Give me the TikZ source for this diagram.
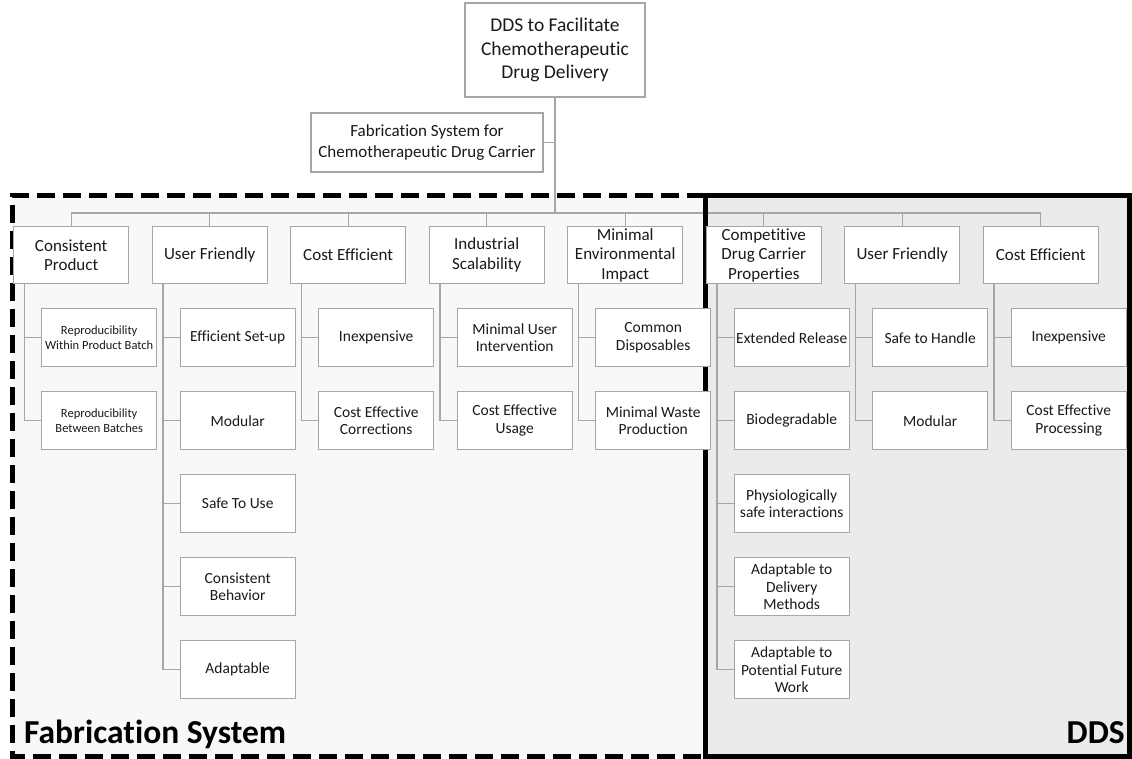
\documentclass[tikz,border=0pt]{standalone}
\usepackage{fontspec}
\setmainfont{Carlito}[Ligatures=NoCommon]
\usetikzlibrary{calc}
\definecolor{boxline}{HTML}{A6A6A6}
\definecolor{fabfill}{HTML}{F8F8F8}
\definecolor{ddsfill}{HTML}{EBEBEB}
\definecolor{ink}{HTML}{1A1A1A}
\pgfdeclarelayer{shade}
\pgfdeclarelayer{frame}
\pgfsetlayers{shade,frame,main}

\begin{document}
\begin{tikzpicture}[x=1pt,y=-1pt,
  box/.style={draw=boxline, line width=1.4pt, fill=white, align=center,
    inner sep=1pt, text=ink, minimum width=115pt, minimum height=57pt},
  headbox/.style={box, anchor=north west, font=\fontsize{17}{19.5}\selectfont},
  leafbox/.style={box, anchor=north west, minimum height=58pt,
    font=\fontsize{15.5}{17.5}\selectfont},
  smallleaf/.style={leafbox, font=\fontsize{12.5}{14.5}\selectfont},
  link/.style={draw=boxline, line width=1.4pt},
  region/.style={line width=5pt, draw=black},
  biglabel/.style={inner sep=0pt, text=black, font=\fontsize{33.5}{40}\selectfont\bfseries}
]
\useasboundingbox (0,0) rectangle (1132,759);

% goal boxes
\node[box, minimum width=180pt, minimum height=94pt,
  font=\fontsize{19.5}{23.5}\selectfont] (top) at (555,50)
  {DDS to Facilitate\\Chemotherapeutic\\Drug Delivery};
\node[box, minimum width=232pt, minimum height=59pt,
  font=\fontsize{17}{20.5}\selectfont] (fab) at (427,142.5)
  {Fabrication System for\\Chemotherapeutic Drug Carrier};
\coordinate (bus) at (555,213);

% column headings
\foreach \i/\x/\t in {
  1/13/{Consistent\\Product},
  2/151.5/{User Friendly},
  3/290/{Cost Efficient},
  4/428.5/{Industrial\\Scalability},
  5/567/{Minimal\\Environmental\\Impact},
  6/705.5/{Competitive\\Drug Carrier\\Properties},
  7/844/{User Friendly},
  8/982.5/{Cost Efficient}}
  \node[headbox] (h\i) at (\x,226) {\t};

% leaf boxes
\node[smallleaf] (c11) at (41,308) {Reproducibility\\Within Product Batch};
\node[smallleaf] (c12) at (41,391) {Reproducibility\\Between Batches};

\node[leafbox] (c21) at (179.5,308) {Efficient Set-up};
\node[leafbox] (c22) at (179.5,391) {Modular};
\node[leafbox] (c23) at (179.5,474) {Safe To Use};
\node[leafbox] (c24) at (179.5,557) {Consistent\\Behavior};
\node[leafbox] (c25) at (179.5,640) {Adaptable};

\node[leafbox] (c31) at (318,308) {Inexpensive};
\node[leafbox] (c32) at (318,391) {Cost Effective\\Corrections};

\node[leafbox] (c41) at (456.5,308) {Minimal User\\Intervention};
\node[leafbox] (c42) at (456.5,391) {Cost Effective\\Usage};

\node[leafbox] (c51) at (595,308) {Common\\Disposables};
\node[leafbox] (c52) at (595,391) {Minimal Waste\\Production};

\node[leafbox] (c61) at (733.5,308) {Extended Release};
\node[leafbox] (c62) at (733.5,391) {Biodegradable};
\node[leafbox] (c63) at (733.5,474) {Physiologically\\safe interactions};
\node[leafbox] (c64) at (733.5,557) {Adaptable to\\Delivery\\Methods};
\node[leafbox] (c65) at (733.5,640) {Adaptable to\\Potential Future\\Work};

\node[leafbox] (c71) at (872,308) {Safe to Handle};
\node[leafbox] (c72) at (872,391) {Modular};

\node[leafbox] (c81) at (1010.5,308) {Inexpensive};
\node[leafbox] (c82) at (1010.5,391) {Cost Effective\\Processing};

% region labels
\node[biglabel, anchor=base west] (fablabel) at (24,743) {Fabrication System};
\node[biglabel, anchor=base east] (ddslabel) at (1125,743) {DDS};

% shaded regions and connectors
\begin{pgfonlayer}{shade}
  \fill[fabfill] (12,196) rectangle (705,756);
  \fill[ddsfill] (705,196) rectangle (1129.5,756);

  \draw[link] (top.south) -- (bus);
  \draw[link] (fab.east) -- (fab.east -| top.south);
  \draw[link] (h1.north) -- ++(0,-13) -| (h8.north);
  \foreach \i in {2,...,7}
    \draw[link] (h\i.north) -- ++(0,-13);

  \foreach \i/\n in {1/2,2/5,3/2,4/2,5/2,6/5,7/2,8/2}
    \foreach \j in {1,...,\n}
      \draw[link] (h\i.south west) ++(11.5,0) |- (c\i\j.west);
\end{pgfonlayer}

% region frames
\begin{pgfonlayer}{frame}
  \draw[region, dash pattern=on 18pt off 8pt] (705,196) -- (12,196) -- (12,756) -- (705,756);
  \draw[region] (705,196) rectangle (1129.5,756);
\end{pgfonlayer}
\end{tikzpicture}
\end{document}
